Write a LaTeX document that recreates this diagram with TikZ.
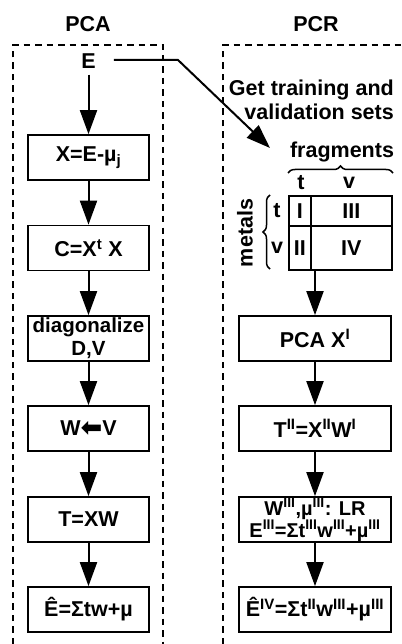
\documentclass[tikz,border=0pt]{standalone}
\usepackage{fontspec}
\setmainfont{Liberation Sans}
\newfontfamily\djv{DejaVu Sans}
\usetikzlibrary{arrows.meta,decorations.pathreplacing}
\begin{document}
\begin{tikzpicture}[x=1pt,y=1pt,
  every node/.style={font=\fontsize{21.5}{23}\selectfont\bfseries, inner sep=0pt},
  lbl/.style={},
  stepbox/.style={draw, line width=1.7pt, minimum height=45pt, align=center},
  lbox/.style={stepbox, minimum width=121pt},
  rbox/.style={stepbox, minimum width=152pt},
  cell/.style={draw, line width=1.7pt, anchor=north west},
  arr/.style={line width=2pt, -{Triangle[length=24pt,width=17pt]}},
  frame/.style={line width=1.6pt, dash pattern=on 6.5pt off 5pt},
  brc/.style={line width=1.5pt, decorate, decoration={brace, amplitude=7pt}}
]
\useasboundingbox (0,0) rectangle (401,-644);
% frames
\draw[frame] (13,-644) -- (13,-45) -- (163,-45) -- (163,-644);
\draw[frame] (223,-644) -- (223,-45) -- (401,-45);
\node[lbl] (pca) at (88,-24) {PCA};
\node[lbl] (pcr) at (316,-24) {PCR};
% left column
\node[lbl] (E) at (88.5,-61) {E};
\node[lbox] (b1) at (88.5,-157.5) {X=E-µ\textsubscript{j}};
\node[lbox] (b2) at (88.5,-248) {C=X\textsuperscript{t} X};
\node[lbox, font=\fontsize{20.5}{23}\selectfont\bfseries] (b3) at (88.5,-338.5) {diagonalize\\D,V};
\node[lbox] (b4) at (88.5,-428.5) {W\raisebox{-1pt}{\djv\bfseries\fontsize{26}{26}\selectfont ⬅}V};
\node[lbox] (b5) at (88.5,-519.5) {T=XW};
\node[lbox] (b6) at (88.5,-609.5) {Ê=Σtw+µ};
\draw[arr] (E.south) ++(0,-6) -- (b1.north);
\draw[arr] (b1) -- (b2);
\draw[arr] (b2) -- (b3);
\draw[arr] (b3) -- (b4);
\draw[arr] (b4) -- (b5);
\draw[arr] (b5) -- (b6);
% right column
\node[lbl, anchor=east, align=right, font=\fontsize{21.5}{24}\selectfont\bfseries] (get) at (394,-100) {Get training and\\validation sets};
\node[lbl] (frag) at (342,-152) {fragments};
\draw[brc] (288,-173) -- (393,-173) coordinate (fragbr);
\node[lbl] (ct) at (301,-183) {t};
\node[lbl] (cv) at (349,-183) {v};
\node[cell, minimum width=22pt, minimum height=30pt] (c1) at (288,-195) {I};
\node[cell, minimum width=81pt, minimum height=30pt] (c3) at (310,-195) {III};
\node[cell, minimum width=22pt, minimum height=44pt] (c2) at (288,-225) {II};
\node[cell, minimum width=81pt, minimum height=44pt] (c4) at (310,-225) {IV};
\node[lbl] (rt) at (277,-211) {t};
\node[lbl] (rv) at (277,-248) {v};
\draw[brc] (270,-269) -- (270,-195) coordinate (metbr);
\node[lbl, rotate=90] (met) at (245,-233) {metals};
\node[rbox] (r1) at (315,-338.5) {PCA X\textsuperscript{I}};
\node[rbox] (r2) at (315,-428.5) {T\textsuperscript{II}=X\textsuperscript{II}W\textsuperscript{I}};
\node[rbox, font=\fontsize{20}{22}\selectfont\bfseries] (r3) at (315,-519.5) {W\textsuperscript{III},µ\textsuperscript{III}: LR\\E\textsuperscript{III}=Σt\textsuperscript{III}w\textsuperscript{III}+µ\textsuperscript{III}};
\node[rbox] (r4) at (315,-609.5) {Ê\textsuperscript{IV}=Σt\textsuperscript{II}w\textsuperscript{III}+µ\textsuperscript{III}};
\draw[arr] (c4.south -| r1.north) -- (r1.north);
\draw[arr] (r1) -- (r2);
\draw[arr] (r2) -- (r3);
\draw[arr] (r3) -- (r4);
% E to training sets
\coordinate (bend) at (178,-60);
\coordinate (tip) at (270,-148);
\draw[arr] (E.east) ++(18,1) -- (bend) -- (tip);
\end{tikzpicture}
\end{document}
